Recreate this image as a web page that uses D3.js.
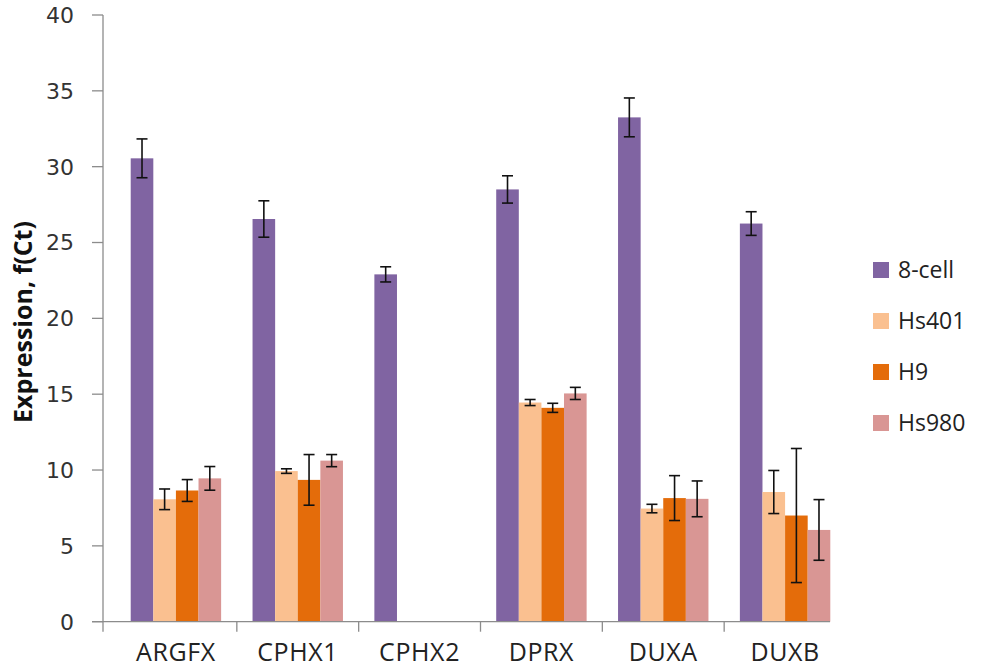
<!DOCTYPE html>
<html>
<head>
<meta charset="utf-8">
<script src="https://cdn.jsdelivr.net/npm/d3@7"></script>
<style>
  html, body { margin: 0; padding: 0; background: #fff; }
  svg { display: block; }
</style>
</head>
<body>
<svg id="chart" width="981" height="670"></svg>
<script>
// ---- data ----
const categories = ["ARGFX", "CPHX1", "CPHX2", "DPRX", "DUXA", "DUXB"];
const seriesNames = ["8-cell", "Hs401", "H9", "Hs980"];
const seriesColors = ["#8064A2", "#FAC090", "#E46C0A", "#D99694"];
const cell8   = [30.55, 26.55, 22.9, 28.5, 33.25, 26.25];
const hs401   = [8.07, 9.93, 0, 14.45, 7.46, 8.55];
const h9      = [8.65, 9.35, 0, 14.1, 8.15, 7.0];
const hs980   = [9.45, 10.62, 0, 15.05, 8.1, 6.05];
const cell8Err = [1.28, 1.2, 0.5, 0.9, 1.28, 0.78];
const hs401Err = [0.68, 0.15, 0, 0.2, 0.28, 1.42];
const h9Err    = [0.72, 1.67, 0, 0.3, 1.48, 4.42];
const hs980Err = [0.78, 0.4, 0, 0.4, 1.18, 2.0];
const yTicks = [0, 5, 10, 15, 20, 25, 30, 35, 40];

const values = [cell8, hs401, h9, hs980];
const errors = [cell8Err, hs401Err, h9Err, hs980Err];

const svg = d3.select("#chart");

const y = d3.scaleLinear().domain([0, 40]).range([621.7, 15]);
const x0 = d3.scaleBand().domain(categories).range([115, 846]).paddingInner(0).paddingOuter(0);
const x1 = d3.scaleBand().domain(seriesNames).range([0, x0.bandwidth()]).paddingInner(0).paddingOuter(0.695);
const color = d3.scaleOrdinal().domain(seriesNames).range(seriesColors);

const axisX = 103;
const axisColor = "#8c8c8c";

// bars
const rows = [];
seriesNames.forEach((s, si) => {
  categories.forEach((c, ci) => {
    rows.push({ s, c, v: values[si][ci], e: errors[si][ci] });
  });
});

svg.append("g").selectAll("rect").data(rows).join("rect")
  .attr("x", d => x0(d.c) + x1(d.s))
  .attr("y", d => y(d.v))
  .attr("width", x1.bandwidth())
  .attr("height", d => y(0) - y(d.v))
  .attr("fill", d => color(d.s));

// y axis
const yAxis = svg.append("g");
yAxis.append("line").attr("x1", axisX).attr("x2", axisX).attr("y1", y(40)).attr("y2", y(0))
  .attr("stroke", axisColor).attr("stroke-width", 1.3);
yAxis.selectAll("line.tick").data(yTicks).join("line").attr("class", "tick")
  .attr("x1", axisX - 11).attr("x2", axisX).attr("y1", d => y(d)).attr("y2", d => y(d))
  .attr("stroke", axisColor).attr("stroke-width", 1.3);
yAxis.selectAll("text").data(yTicks).join("text")
  .attr("x", 74).attr("y", d => y(d)).attr("dy", "0.36em")
  .attr("text-anchor", "end")
  .attr("font-family", "DejaVu Sans, Verdana, sans-serif").attr("font-size", 22)
  .attr("fill", "#333").text(d => d);

// x axis
const xAxis = svg.append("g");
xAxis.append("line").attr("x1", axisX - 11).attr("x2", x0.range()[1] - 16)
  .attr("y1", y(0)).attr("y2", y(0)).attr("stroke", axisColor).attr("stroke-width", 1.3);
const boundaries = [axisX].concat(categories.slice(1).map(c => x0(c)));
xAxis.selectAll("line.tick").data(boundaries).join("line").attr("class", "tick")
  .attr("x1", d => d).attr("x2", d => d).attr("y1", y(0)).attr("y2", y(0) + 10)
  .attr("stroke", axisColor).attr("stroke-width", 1.3);
xAxis.selectAll("text").data(categories).join("text")
  .attr("x", d => x0(d) + x0.bandwidth() / 2).attr("y", 661)
  .attr("text-anchor", "middle")
  .attr("font-family", "Open Sans, sans-serif").attr("font-size", 25)
  .attr("letter-spacing", 0.6)
  .attr("fill", "#222").text(d => d);

// error bars
const eb = svg.append("g").attr("stroke", "#111").attr("stroke-width", 1.6);
const ebRows = rows.filter(d => d.e > 0);
const cx = d => x0(d.c) + x1(d.s) + x1.bandwidth() / 2;
eb.selectAll("line.v").data(ebRows).join("line").attr("class", "v")
  .attr("x1", cx).attr("x2", cx).attr("y1", d => y(d.v + d.e)).attr("y2", d => y(d.v - d.e));
eb.selectAll("line.t").data(ebRows).join("line").attr("class", "t")
  .attr("x1", d => cx(d) - 5.5).attr("x2", d => cx(d) + 5.5)
  .attr("y1", d => y(d.v + d.e)).attr("y2", d => y(d.v + d.e));
eb.selectAll("line.b").data(ebRows).join("line").attr("class", "b")
  .attr("x1", d => cx(d) - 5.5).attr("x2", d => cx(d) + 5.5)
  .attr("y1", d => y(d.v - d.e)).attr("y2", d => y(d.v - d.e));

// y-axis title
svg.append("text")
  .attr("transform", "translate(32,322) rotate(-90)")
  .attr("text-anchor", "middle")
  .attr("font-family", "Open Sans, sans-serif").attr("font-weight", "bold").attr("font-size", 25)
  .attr("fill", "#111").text("Expression, f(Ct)");

// legend
const legend = svg.append("g").selectAll("g").data(seriesNames).join("g")
  .attr("transform", (d, i) => `translate(873,${270 + i * 51})`);
legend.append("rect").attr("x", 0).attr("y", -8).attr("width", 16).attr("height", 16)
  .attr("fill", d => color(d));
legend.append("text").attr("x", 25).attr("y", 0).attr("dy", "0.36em")
  .attr("font-family", "Open Sans, sans-serif").attr("font-size", 23)
  .attr("fill", "#222").text(d => d);
</script>
</body>
</html>
